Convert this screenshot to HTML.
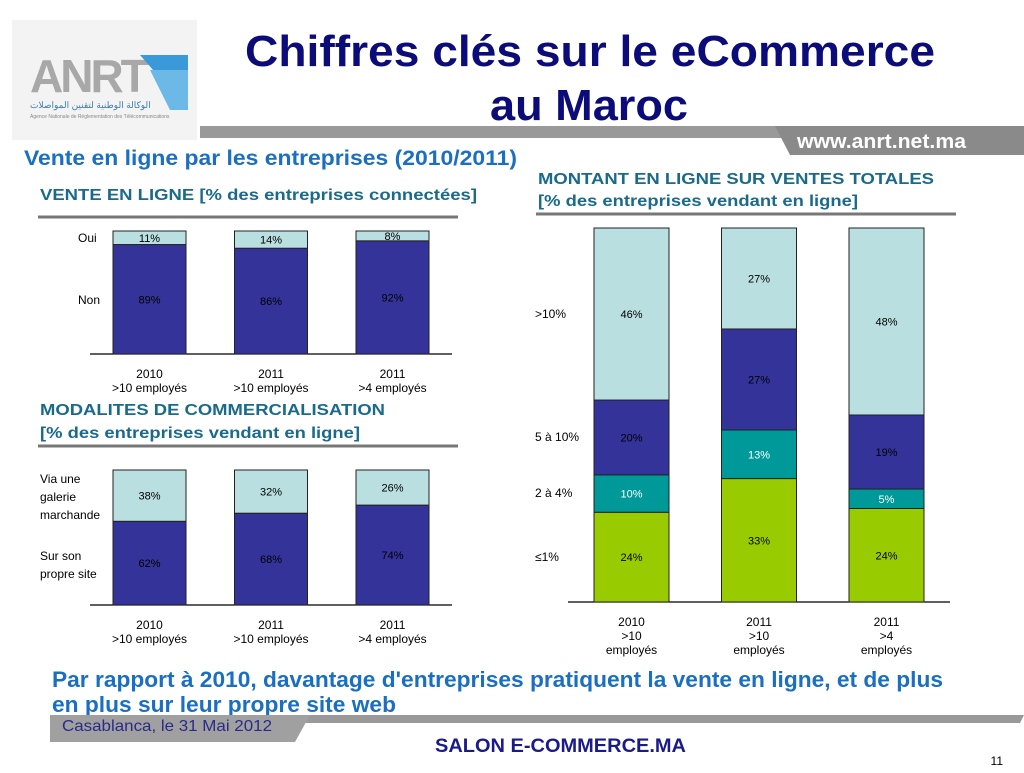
<!DOCTYPE html>
<html><head><meta charset="utf-8"><style>
body{margin:0;width:1024px;height:768px;background:#fff;overflow:hidden;font-family:"Liberation Sans",sans-serif}
svg text{font-family:"Liberation Sans",sans-serif}
</style></head><body>
<svg id="s" width="1024" height="768" viewBox="0 0 1024 768">
<g>
<rect x="12" y="20" width="185" height="120" fill="#f3f3f3"/>
<text x="30" y="92" font-size="46" fill="#a8a8a8" font-weight="bold" letter-spacing="-3">ANRT</text>
<polygon points="140,55 188,55 188,110" fill="#3a9ad9"/>
<polygon points="150,70 188,70 188,110 170,110" fill="#6cb8e6"/>
<text x="30" y="108" font-size="9" fill="#3a7ab0">الوكالة الوطنية لتقنين المواصلات</text>
<text x="30" y="118" font-size="5" fill="#888">Agence Nationale de Réglementation des Télécommunications</text>
</g>
<text x="245" y="66" font-size="44" font-weight="bold" fill="#0b0b7a" textLength="690" lengthAdjust="spacingAndGlyphs">Chiffres clés sur  le eCommerce</text>
<text x="490" y="120" font-size="44" font-weight="bold" fill="#0b0b7a" textLength="198" lengthAdjust="spacingAndGlyphs">au Maroc</text>
<polygon points="200,126 1024,126 1024,138 200,138" fill="#999"/>
<polygon points="775,126 1024,126 1024,155 790,155" fill="#8a8a8a"/>
<text x="797" y="148" font-size="20" font-weight="bold" fill="#fff" textLength="169" lengthAdjust="spacingAndGlyphs">www.anrt.net.ma</text>
<text x="24" y="165" font-size="21" font-weight="bold" fill="#1a6fc0" textLength="493" lengthAdjust="spacingAndGlyphs">Vente en ligne par les entreprises  (2010/2011)</text>
<text x="40" y="200" font-size="16" font-weight="bold" fill="#1a6a8c" textLength="437" lengthAdjust="spacingAndGlyphs">VENTE EN LIGNE [% des entreprises connectées]</text>
<line x1="38" y1="217" x2="458" y2="217" stroke="#777" stroke-width="3"/>
<text x="40" y="415" font-size="16" font-weight="bold" fill="#1a6a8c" textLength="345" lengthAdjust="spacingAndGlyphs">MODALITES DE COMMERCIALISATION</text>
<text x="40" y="438" font-size="16" font-weight="bold" fill="#1a6a8c" textLength="320" lengthAdjust="spacingAndGlyphs">[% des entreprises vendant en ligne]</text>
<line x1="38" y1="446" x2="458" y2="446" stroke="#777" stroke-width="3"/>
<text x="538" y="184" font-size="16" font-weight="bold" fill="#1a6a8c" textLength="396" lengthAdjust="spacingAndGlyphs">MONTANT EN LIGNE SUR VENTES TOTALES</text>
<text x="538" y="206" font-size="16" font-weight="bold" fill="#1a6a8c" textLength="320" lengthAdjust="spacingAndGlyphs">[% des entreprises vendant en ligne]</text>
<line x1="536" y1="214" x2="956" y2="214" stroke="#777" stroke-width="3"/>
<g id="c1"></g>
<g id="c2"></g>
<g id="c3"></g>
<text x="52" y="687" font-size="22" font-weight="bold" fill="#1a6fc0" textLength="891" lengthAdjust="spacingAndGlyphs">Par rapport à 2010, davantage d'entreprises pratiquent la vente en ligne, et de plus</text>
<text x="52" y="712" font-size="22" font-weight="bold" fill="#1a6fc0" textLength="344" lengthAdjust="spacingAndGlyphs">en plus sur leur propre site web</text>
<polygon points="300,715 1024,715 1020,723 296,723" fill="#999"/>
<polygon points="50,715 310,715 295,742 50,742" fill="#a0a0a0"/>
<text x="62" y="731" font-size="16" fill="#2a2a8a" textLength="210" lengthAdjust="spacingAndGlyphs">Casablanca, le 31 Mai 2012</text>
<text x="435" y="752" font-size="19" font-weight="bold" fill="#1a1a8a" textLength="251" lengthAdjust="spacingAndGlyphs">SALON E-COMMERCE.MA</text>
<text x="1003" y="765" font-size="12" fill="#000" text-anchor="end">11</text>
</svg>
<script>
const NS="http://www.w3.org/2000/svg";
const c1Cats=["2010|>10 employés","2011|>10 employés","2011|>4 employés"];
const c1Non=[89,86,92];
const c1Oui=[11,14,8];
const c1Labels=["Oui","Non"];
const c2Cats=["2010|>10 employés","2011|>10 employés","2011|>4 employés"];
const c2Propre=[62,68,74];
const c2Galerie=[38,32,26];
const c3Cats=["2010|>10|employés","2011|>10|employés","2011|>4|employés"];
const c3Le1=[24,33,24];
const c3S2a4=[10,13,5];
const c3S5a10=[20,27,19];
const c3Gt10=[46,27,48];
function mk(p,tag,a,txt){const e=document.createElementNS(NS,tag);for(const k in a)e.setAttribute(k,a[k]);if(txt!==undefined)e.textContent=txt;p.appendChild(e);return e;}
function stacked(gid,o){
 const g=document.getElementById(gid);
 const y=v=>o.base-v*(o.base-o.top);
 mk(g,'line',{x1:o.ax0,x2:o.ax1,y1:o.base,y2:o.base,stroke:'#000','stroke-width':1.2});
 o.cats.forEach((c,i)=>{
  const x=o.x0+i*o.step;
  const tot=o.series.reduce((s,se)=>s+se.v[i],0);
  let acc=0;
  o.series.forEach(se=>{
   const v=se.v[i]/tot;
   const y1=y(acc+v),y0=y(acc);
   const r=mk(g,'rect',{x:x,y:y1,width:o.w,height:y0-y1,fill:se.color,stroke:'#222','stroke-width':1});
   
   
   const t=mk(g,'text',{x:x+o.w/2,y:(y0+y1)/2+4,'font-size':11,fill:se.tc,'text-anchor':'middle'},se.v[i]+'%');
   
   
   acc+=v;
  });
  c.split('|').forEach((l,j)=>{
   const t=mk(g,'text',{x:x+o.w/2,y:o.base+24+j*14,'font-size':12,fill:'#000','text-anchor':'middle'},l);
   
   
  });
 });
 o.legend.forEach(l=>{l.t.split('|').forEach((s,j)=>{
  const t=mk(g,'text',{x:o.lx,y:l.y+j*18,'font-size':12,fill:'#000'},s);
  
  
 });});
}
stacked('c1',{cats:c1Cats,top:231,base:354,x0:113,step:121.5,w:73,ax0:90,ax1:452,lx:78,
 series:[{name:'non',v:c1Non,color:'#333399',tc:'#000'},{name:'oui',v:c1Oui,color:'#b9dfe0',tc:'#000'}],
 legend:[{t:c1Labels[0],y:242},{t:c1Labels[1],y:304}]});
stacked('c2',{cats:c2Cats,top:470,base:605,x0:113,step:121.5,w:73,ax0:90,ax1:452,lx:40,
 series:[{name:'propre-site',v:c2Propre,color:'#333399',tc:'#000'},{name:'galerie',v:c2Galerie,color:'#b9dfe0',tc:'#000'}],
 legend:[{t:'Via une|galerie|marchande',y:483},{t:'Sur son|propre site',y:560}]});
stacked('c3',{cats:c3Cats,top:228,base:602,x0:594,step:127.5,w:75,ax0:568,ax1:950,lx:535,
 series:[{name:'le1',v:c3Le1,color:'#99cc00',tc:'#000'},{name:'2a4',v:c3S2a4,color:'#009999',tc:'#fff'},{name:'5a10',v:c3S5a10,color:'#333399',tc:'#000'},{name:'gt10',v:c3Gt10,color:'#b9dfe0',tc:'#000'}],
 legend:[{t:'>10%',y:318},{t:'5 à 10%',y:441},{t:'2 à 4%',y:497},{t:'≤1%',y:561}]});
</script>
</body></html>
